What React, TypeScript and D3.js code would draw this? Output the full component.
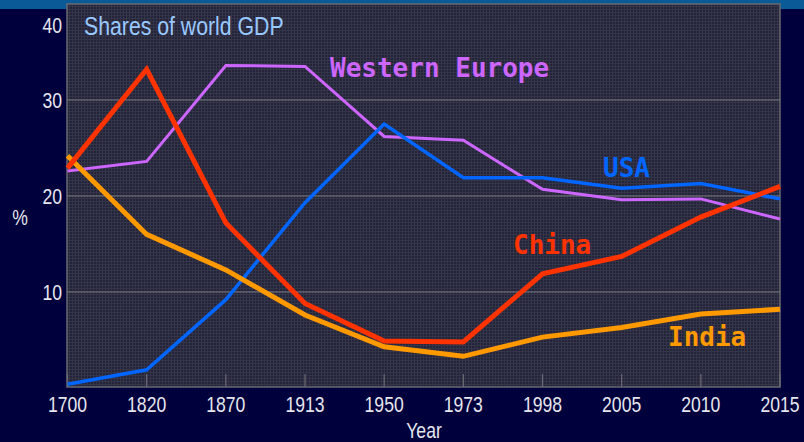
import React, { useEffect, useRef } from 'react';
import * as d3 from 'd3';

const years = ['1700', '1820', '1870', '1913', '1950', '1973', '1998', '2005', '2010', '2015'];
const china = [22.9, 33.2, 17.2, 8.8, 4.9, 4.8, 11.9, 13.7, 17.8, 21.0];
const india = [24.2, 16.0, 12.3, 7.6, 4.3, 3.3, 5.3, 6.3, 7.7, 8.2];
const usa = [0.4, 1.9, 9.2, 19.3, 27.5, 21.9, 21.9, 20.8, 21.3, 19.7];
const westEurope = [22.6, 23.6, 33.6, 33.5, 26.2, 25.8, 20.7, 19.6, 19.7, 17.6];
const yTicks = [10, 20, 30, 40];

const seriesList = [
    { name: 'Western Europe', values: westEurope, color: '#cc66ff', width: 3, label: [330, 77] },
    { name: 'USA', values: usa, color: '#0066ff', width: 3.5, label: [603, 177] },
    { name: 'India', values: india, color: '#ff9900', width: 5, label: [668, 346] },
    { name: 'China', values: china, color: '#ff3300', width: 5, label: [513, 254] },
];

const W = 804;
const H = 442;
const plot = { left: 67, right: 780, top: 4, bottom: 387 };

// squeeze text horizontally, the original uses a narrow face
const narrow = (sel: any, k = 0.86) => {
    sel.each(function (this: SVGTextElement) {
        const len = this.getComputedTextLength();
        d3.select(this)
            .attr('textLength', len * k)
            .attr('lengthAdjust', 'spacingAndGlyphs');
    });
};

const App = () => {
    const ref = useRef<SVGSVGElement>(null);

    useEffect(() => {
        const svg = d3.select(ref.current);
        svg.selectAll('*').remove();

        // background
        svg.append('rect').attr('width', W).attr('height', H).attr('fill', '#00003c');
        svg.append('rect').attr('width', W).attr('height', 9).attr('fill', '#0a5a98');

        // texture for the plot area
        const defs = svg.append('defs');
        const pat = defs.append('pattern')
            .attr('id', 'tex')
            .attr('width', 3)
            .attr('height', 3)
            .attr('patternUnits', 'userSpaceOnUse');
        pat.append('rect').attr('width', 3).attr('height', 3).attr('fill', '#23233a');
        pat.append('rect').attr('width', 1).attr('height', 3).attr('fill', '#35354a');
        pat.append('rect').attr('width', 3).attr('height', 1).attr('fill', '#35354a');

        const x = d3.scalePoint<string>()
            .domain(years)
            .range([plot.left + 0.5, plot.right]);
        const y = d3.scaleLinear()
            .domain([0, 40])
            .range([plot.bottom + 1, plot.top]);

        svg.append('rect')
            .attr('x', plot.left)
            .attr('y', plot.top)
            .attr('width', plot.right - plot.left)
            .attr('height', plot.bottom - plot.top)
            .attr('fill', 'url(#tex)')
            .attr('stroke', '#6a6a72')
            .attr('stroke-width', 1.5);

        // gridlines
        svg.selectAll('.grid')
            .data(yTicks.filter((d) => d < 40))
            .enter()
            .append('line')
            .attr('x1', plot.left)
            .attr('x2', plot.right)
            .attr('y1', (d) => y(d))
            .attr('y2', (d) => y(d))
            .attr('stroke', '#7a7a80')
            .attr('stroke-width', 1.2);

        // bottom ticks
        svg.selectAll('.xtick')
            .data(years)
            .enter()
            .append('line')
            .attr('x1', (d) => x(d)!)
            .attr('x2', (d) => x(d)!)
            .attr('y1', plot.bottom - 13)
            .attr('y2', plot.bottom)
            .attr('stroke', '#6a6a72')
            .attr('stroke-width', 1.2);

        const font = '"Liberation Sans", Arial, sans-serif';

        // x labels
        svg.selectAll('.xlabel')
            .data(years)
            .enter()
            .append('text')
            .attr('x', (d) => x(d)!)
            .attr('y', 412)
            .attr('text-anchor', 'middle')
            .attr('font-family', font)
            .attr('font-size', 22)
            .attr('fill', '#e6e6ee')
            .text((d) => d)
            .call(narrow, 0.8);

        // y labels
        svg.selectAll('.ylabel')
            .data(yTicks)
            .enter()
            .append('text')
            .attr('x', 62)
            .attr('y', (d) => (d === 40 ? y(d) + 21 : y(d)))
            .attr('dy', '0.35em')
            .attr('text-anchor', 'end')
            .attr('font-family', font)
            .attr('font-size', 22)
            .attr('fill', '#e6e6ee')
            .text((d) => d)
            .call(narrow, 0.8);

        svg.append('text')
            .attr('x', 20)
            .attr('y', 217)
            .attr('dy', '0.35em')
            .attr('text-anchor', 'middle')
            .attr('font-family', font)
            .attr('font-size', 22)
            .attr('fill', '#e6e6ee')
            .text('%')
            .call(narrow, 0.8);

        svg.append('text')
            .attr('x', 424)
            .attr('y', 438)
            .attr('text-anchor', 'middle')
            .attr('font-family', font)
            .attr('font-size', 22)
            .attr('fill', '#e6e6ee')
            .text('Year')
            .call(narrow, 0.8);

        svg.append('text')
            .attr('x', 84)
            .attr('y', 35)
            .attr('font-family', font)
            .attr('font-size', 25)
            .attr('fill', '#99c8ff')
            .text('Shares of world GDP')
            .call(narrow, 0.85);

        // lines
        const line = d3.line<number>()
            .x((d, i) => x(years[i])!)
            .y((d) => y(d));

        seriesList.forEach((s) => {
            svg.append('path')
                .datum(s.values)
                .attr('d', line)
                .attr('fill', 'none')
                .attr('stroke', s.color)
                .attr('stroke-width', s.width)
                .attr('stroke-linejoin', 'miter');

            svg.append('text')
                .attr('x', s.label[0])
                .attr('y', s.label[1])
                .attr('font-family', '"DejaVu Sans Mono", monospace')
                .attr('font-weight', 'bold')
                .attr('font-size', 26)
                .attr('fill', s.color)
                .text(s.name);
        });
    });

    return (
        <svg ref={ref} width={W} height={H} style={{ position: 'absolute', left: 0, top: 0 }} />
    );
};

export default App;
